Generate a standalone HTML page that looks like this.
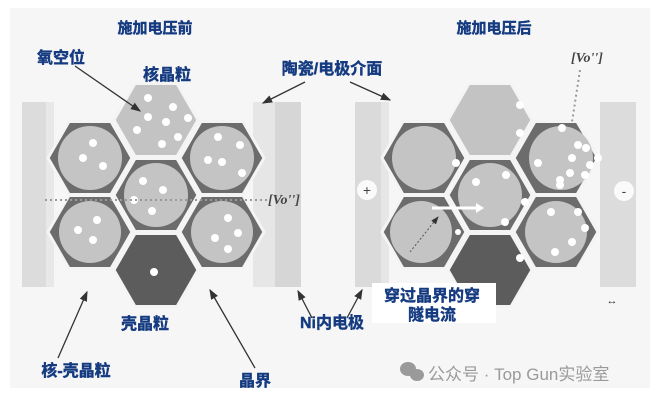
<!DOCTYPE html>
<html><head><meta charset="utf-8"><style>
html,body{margin:0;padding:0;background:#fff;}
svg{display:block}
.t{font-family:"Liberation Sans","Noto Sans CJK SC",sans-serif;font-weight:bold;fill:#143a80;stroke:#143a80;stroke-width:0.4;}
.v{font-family:"Liberation Serif",serif;font-style:italic;font-weight:bold;fill:#444;font-size:14px}
</style></head><body>
<svg width="659" height="400" viewBox="0 0 659 400" xmlns="http://www.w3.org/2000/svg">
<defs>
<polygon id="hx" points="-42,0 -21,-36.5 21,-36.5 42,0 21,36.5 -21,36.5"/>
<marker id="ar" markerWidth="8" markerHeight="8" refX="7" refY="4" orient="auto"><path d="M0,1 L8,4 L0,7 z" fill="#333"/></marker>
</defs>
<rect x="10" y="8" width="640" height="380" fill="#f6f6f6"/>
<rect x="22" y="102" width="24" height="185" fill="#dcdcdc"/>
<rect x="46" y="102" width="8" height="185" fill="#e8e8e8"/>
<rect x="253" y="102" width="22" height="185" fill="#e6e6e6"/>
<rect x="275" y="102" width="26" height="185" fill="#d6d6d6"/>
<g stroke="#f4f4f4" stroke-width="3">
<use href="#hx" x="156" y="120" fill="#c3c3c3"/>
<use href="#hx" x="90" y="158" fill="#6c6c6c"/>
<use href="#hx" x="222" y="158" fill="#6c6c6c"/>
<use href="#hx" x="156" y="195" fill="#6c6c6c"/>
<use href="#hx" x="90" y="232" fill="#6c6c6c"/>
<use href="#hx" x="222" y="232" fill="#6c6c6c"/>
<use href="#hx" x="156" y="270" fill="#5c5c5c"/>
</g>
<g fill="#c4c4c4">
<circle cx="90" cy="158" r="32"/><circle cx="222" cy="158" r="32"/>
<circle cx="156" cy="195" r="32"/><circle cx="90" cy="232" r="31"/><circle cx="222" cy="232" r="31"/>
</g>
<g fill="#fff">
<circle cx="148" cy="98" r="4"/><circle cx="173" cy="107" r="4"/><circle cx="148" cy="117" r="4"/><circle cx="166" cy="122" r="4"/><circle cx="188" cy="118" r="4"/><circle cx="137" cy="130" r="4"/><circle cx="178" cy="137" r="4"/><circle cx="162" cy="144" r="4"/>
<circle cx="93" cy="143" r="4"/><circle cx="83" cy="158" r="4"/><circle cx="103" cy="166" r="4"/>
<circle cx="218" cy="137" r="4"/><circle cx="240" cy="145" r="4"/><circle cx="208" cy="160" r="4"/><circle cx="222" cy="162" r="4"/><circle cx="242" cy="173" r="4"/>
<circle cx="143" cy="181" r="4"/><circle cx="163" cy="190" r="4"/><circle cx="134" cy="200" r="4"/><circle cx="152" cy="211" r="4"/>
<circle cx="97" cy="220" r="4"/><circle cx="78" cy="230" r="4"/><circle cx="93" cy="240" r="4"/>
<circle cx="228" cy="218" r="4"/><circle cx="238" cy="233" r="4"/><circle cx="215" cy="238" r="4"/><circle cx="228" cy="249" r="4"/>
<circle cx="154" cy="272" r="4"/>
</g>
<line x1="45" y1="200" x2="268" y2="200" stroke="#999" stroke-width="2" stroke-dasharray="2,3"/>
<text class="v" x="268" y="204">[Vo'']</text>
<rect x="355" y="102" width="26" height="185" fill="#dadada"/>
<rect x="381" y="102" width="8" height="185" fill="#e6e6e6"/>
<rect x="600" y="102" width="36" height="185" fill="#dcdcdc"/>
<circle cx="367" cy="190" r="10" fill="#fafafa"/>
<text x="367" y="195" text-anchor="middle" font-family="Liberation Sans" font-size="14" fill="#444">+</text>
<circle cx="624" cy="191" r="10" fill="#fafafa"/>
<text x="624" y="196" text-anchor="middle" font-family="Liberation Sans" font-size="14" fill="#444">-</text>
<g stroke="#f4f4f4" stroke-width="3">
<use href="#hx" x="490" y="120" fill="#c3c3c3"/>
<use href="#hx" x="424" y="158" fill="#6c6c6c"/>
<use href="#hx" x="556" y="158" fill="#6c6c6c"/>
<use href="#hx" x="490" y="195" fill="#6c6c6c"/>
<use href="#hx" x="424" y="232" fill="#6c6c6c"/>
<use href="#hx" x="556" y="232" fill="#6c6c6c"/>
<use href="#hx" x="490" y="270" fill="#5c5c5c"/>
</g>
<g fill="#c4c4c4">
<circle cx="424" cy="158" r="32"/><circle cx="561" cy="158" r="32"/>
<circle cx="490" cy="195" r="32"/><circle cx="421" cy="232" r="31"/><circle cx="556" cy="232" r="31"/>
</g>
<g fill="#fff">
<circle cx="520" cy="105" r="4"/><circle cx="520" cy="133" r="4"/><circle cx="456" cy="163" r="4"/>
<circle cx="562" cy="128" r="4"/><circle cx="578" cy="145" r="4"/><circle cx="586" cy="148" r="4"/><circle cx="572" cy="158" r="4"/><circle cx="590" cy="165" r="4"/><circle cx="538" cy="163" r="4"/><circle cx="570" cy="173" r="4"/><circle cx="585" cy="175" r="4"/><circle cx="560" cy="180" r="4"/><circle cx="560" cy="185" r="4"/><circle cx="598" cy="158" r="4"/>
<circle cx="476" cy="182" r="4"/><circle cx="506" cy="175" r="4"/><circle cx="525" cy="202" r="4"/><circle cx="505" cy="222" r="4"/>
<circle cx="551" cy="212" r="4"/><circle cx="578" cy="212" r="4"/><circle cx="585" cy="228" r="4"/><circle cx="572" cy="242" r="4"/><circle cx="555" cy="252" r="4"/>
<circle cx="458" cy="232" r="3"/><circle cx="520" cy="258" r="4"/>
</g>
<line x1="580" y1="70" x2="572" y2="122" stroke="#999" stroke-width="2" stroke-dasharray="2,3"/>
<text class="v" x="571" y="62">[Vo'']</text>
<line x1="432" y1="208" x2="478" y2="208" stroke="#fff" stroke-width="3"/>
<path d="M476,203 L484,208 L476,213z" fill="#fff"/>
<line x1="410" y1="252" x2="438" y2="217" stroke="#555" stroke-width="1" stroke-dasharray="2,2" marker-end="url(#ar)"/>
<rect x="372" y="283" width="124" height="40" fill="#fff"/>
<g class="t">
<text x="155" y="33" font-size="15" text-anchor="middle">施加电压前</text>
<text x="494" y="33" font-size="15" text-anchor="middle">施加电压后</text>
<text x="37" y="63" font-size="16">氧空位</text>
<text x="167" y="80" font-size="16" text-anchor="middle">核晶粒</text>
<text x="332" y="74" font-size="16" text-anchor="middle">陶瓷/电极介面</text>
<text x="145" y="329" font-size="16" text-anchor="middle">壳晶粒</text>
<text x="76" y="376" font-size="16" text-anchor="middle">核-壳晶粒</text>
<text x="255" y="386" font-size="16" text-anchor="middle">晶界</text>
<text x="332" y="328" font-size="16" text-anchor="middle">Ni内电极</text>
<text x="432" y="301" font-size="16" text-anchor="middle">穿过晶界的穿</text>
<text x="432" y="320" font-size="16" text-anchor="middle">隧电流</text>
</g>
<g stroke="#333" stroke-width="1.3" fill="none" marker-end="url(#ar)">
<line x1="75" y1="66" x2="140" y2="111"/>
<line x1="305" y1="82" x2="263" y2="103"/>
<line x1="350" y1="82" x2="390" y2="100"/>
<line x1="58" y1="358" x2="87" y2="292"/>
<line x1="255" y1="368" x2="210" y2="290"/>
<line x1="312" y1="318" x2="298" y2="291"/>
<line x1="347" y1="318" x2="362" y2="290"/>
</g>
<text x="612" y="304" font-family="Liberation Sans" font-size="11" fill="#333" text-anchor="middle">↔</text>
<g fill="#9a9a9a">
<ellipse cx="408" cy="369" rx="8" ry="7"/><ellipse cx="417" cy="375" rx="7" ry="6"/>
</g>
<text x="428" y="380" font-size="17" fill="#9a9a9a" style="font-family:'Liberation Sans','Noto Sans CJK SC',sans-serif">公众号 · Top Gun实验室</text>
</svg>
</body></html>
